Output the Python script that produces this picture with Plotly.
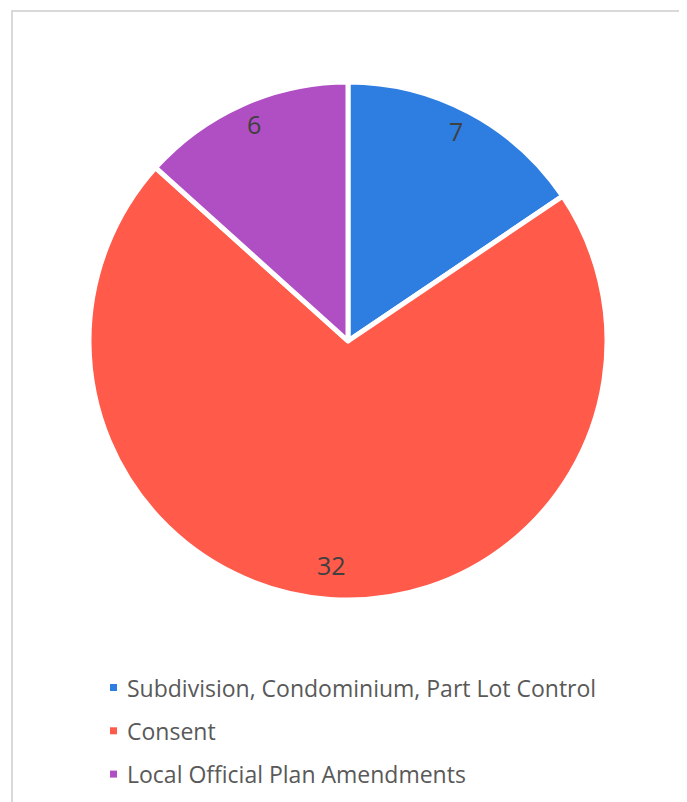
import math
import plotly.graph_objects as go

# ---- data ----
categories = ["Subdivision, Condominium, Part Lot Control", "Consent", "Local Official Plan Amendments"]
values = [7, 32, 6]
colors = ["#2E7DE1", "#FF5A4A", "#B04FC4"]

# page body has an 8px margin, so work in figure pixels = screen pixels - 8
OFF = 8
W, H = 687 - OFF, 802 - OFF
CX, CY, R = 348 - OFF, 341 - OFF, 259  # pie center / radius in pixels
FONT = "Open Sans"

fig = go.Figure()
fig.add_trace(go.Pie(
    labels=categories,
    values=values,
    sort=False,
    direction="clockwise",
    rotation=0,
    marker=dict(colors=colors, line=dict(color="white", width=5)),
    textinfo="none",
    hoverinfo="label+value",
    showlegend=False,
    domain=dict(x=[(CX - R) / W, (CX + R) / W], y=[1 - (CY + R) / H, 1 - (CY - R) / H]),
))

# data labels placed at mid-angle of each slice, near the outer edge
total = sum(values)
cum = 0
for v in values:
    mid = (cum + v / 2) / total * 2 * math.pi
    cum += v
    px = CX + 0.89 * R * math.sin(mid)
    py = CY - 0.89 * R * math.cos(mid)
    fig.add_annotation(x=px / W, y=1 - py / H, xref="paper", yref="paper",
                       text=str(v), showarrow=False, yshift=6,
                       font=dict(family=FONT, size=25, color="#404040"),
                       xanchor="center", yanchor="middle")

# legend
LX, LY0, LDY, SQ = 110 - OFF, 687.5 - OFF, 43.3, 7
for i, (c, col) in enumerate(zip(categories, colors)):
    yc = LY0 + i * LDY
    fig.add_shape(type="rect", xref="paper", yref="paper",
                  x0=LX / W, x1=(LX + SQ) / W,
                  y0=1 - (yc + SQ / 2) / H, y1=1 - (yc - SQ / 2) / H,
                  fillcolor=col, line=dict(width=0))
    fig.add_annotation(x=(LX + SQ + 8) / W, y=1 - yc / H, xref="paper", yref="paper",
                       text=c, showarrow=False,
                       font=dict(family=FONT, size=23, color="#595959"),
                       xanchor="left", yanchor="middle")

# chart area border
fig.add_shape(type="rect", xref="paper", yref="paper",
              x0=(12 - OFF) / W, x1=(685 - OFF) / W, y0=-10 / H, y1=1 - (11 - OFF) / H,
              line=dict(color="#D9D9D9", width=2), fillcolor="rgba(0,0,0,0)")

fig.update_layout(
    width=W, height=H,
    margin=dict(l=0, r=0, t=0, b=0),
    paper_bgcolor="white",
    plot_bgcolor="white",
)

fig.write_html("out.html")
